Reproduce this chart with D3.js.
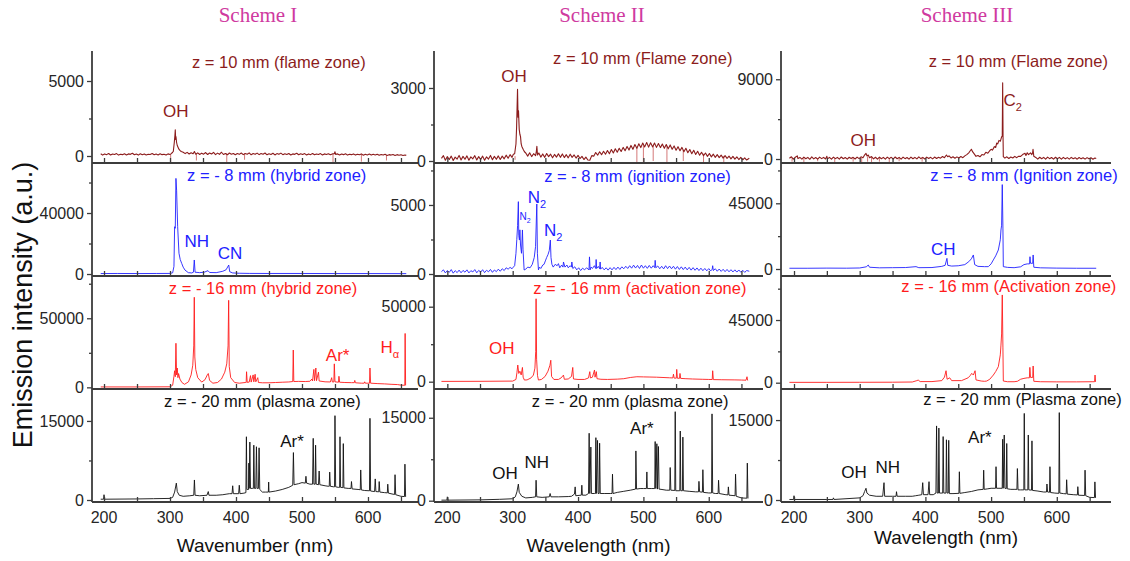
<!DOCTYPE html>
<html>
<head>
<meta charset="utf-8">
<script src="https://cdn.jsdelivr.net/npm/d3@7"></script>
<style>
  body { margin: 0; background: #fff; }
  svg { display: block; font-family: "Liberation Sans", Arial, sans-serif; }
</style>
</head>
<body>
<svg id="chart" width="1130" height="561"></svg>
<script>
/**
 * Data: [wavelength nm, intensity a.u.]
 */
const schemes = ["Scheme I", "Scheme II", "Scheme III"];
const xTitles = ["Wavenumber (nm)", "Wavelength (nm)", "Wavelength (nm)"];
const xLabelTicks = [200, 300, 400, 500, 600];
const xAllTicks = [200, 250, 300, 350, 400, 450, 500, 550, 600, 650];
const yMajorTicks = [
  [5000, 40000, 50000, 15000],
  [3000, 5000, 50000, 15000],
  [9000, 45000, 45000, 15000]
];
const yMinorTicks = [
  [[2500], [20000, 60000], [25000, 75000], [7500]],
  [[1500], [2500, 7500], [25000], [7500]],
  [[4500], [22500, 67500], [22500, 67500], [7500]]
];
const zoneTitles = [
  ["z = 10 mm (flame zone)", "z = - 8 mm (hybrid zone)", "z = - 16 mm (hybrid zone)", "z = - 20 mm (plasma zone)"],
  ["z = 10 mm (Flame zone)", "z = - 8 mm (ignition zone)", "z = - 16 mm (activation zone)", "z = - 20 mm (plasma zone)"],
  ["z = 10 mm (Flame zone)", "z = - 8 mm (Ignition zone)", "z = - 16 mm (Activation zone)", "z = - 20 mm (Plasma zone)"]
];

// Scheme I
const s1Flame = [[195,150],[198,60],[201,140],[204,90],[207,170],[210,70],[213,130],[216,100],[219,160],[222,60],[225,120],[228,90],[231,150],[234,70],[237,140],[240,110],[243,180],[246,80],[249,130],[252,60],[255,150],[258,90],[261,140],[264,70],[267,120],[270,100],[273,160],[276,80],[279,130],[282,70],[285,150],[288,90],[291,120],[294,60],[297,140],[300,100],[302,160],[304,250],[305,300],[306.5,900],[307.5,1400],[308,1750],[308.6,1100],[309,1300],[310,900],[311,700],[312,600],[313.5,450],[315,380],[317,300],[320,250],[323,160],[326,240],[329,130],[332,220],[335,150],[337,300],[339,120],[342,210],[345,100],[348,190],[351,120],[354,230],[357,100],[360,200],[363,130],[366,240],[369,90],[372,190],[375,110],[378,250],[381,100],[384,170],[387,80],[390,200],[393,120],[396,170],[399,80],[402,160],[405,110],[408,200],[411,90],[414,170],[417,120],[420,210],[423,80],[426,160],[429,110],[432,190],[435,90],[438,170],[441,120],[444,200],[447,80],[450,150],[453,100],[456,180],[459,70],[462,160],[465,110],[468,190],[471,90],[474,150],[477,100],[480,170],[483,70],[486,140],[489,110],[492,180],[495,80],[498,150],[501,100],[504,160],[507,70],[510,140],[513,90],[516,170],[519,80],[522,130],[525,100],[528,160],[531,70],[534,140],[537,100],[540,150],[543,80],[546,140],[549,150],[550,280],[551,110],[554,140],[557,70],[560,130],[563,90],[566,150],[569,60],[572,120],[575,90],[578,140],[581,60],[584,120],[587,80],[590,140],[593,50],[596,110],[599,70],[602,130],[605,60],[608,110],[611,70],[614,120],[617,50],[620,100],[623,60],[626,110],[629,40],[632,90],[635,60],[638,100],[641,40],[644,90],[647,50],[650,80],[653,30],[656,70],[658,40]];
const s1FlameDips = [[301,100,-420],[340,150,-300],[386,180,-450],[413,170,-250],[547,120,-450],[590,100,-380],[628,60,-300]];
const s1Hybrid = [[195,300],[220,350],[250,300],[280,350],[300,400],[304,800],[306,5000],[307,31000],[308,30000],[309,62700],[310,55000],[311.6,31000],[313.6,13600],[315.5,9500],[317.7,7000],[320,4500],[322.7,2600],[327.7,900],[333,700],[335.5,1200],[336.8,9200],[338,1200],[345,900],[352,1200],[357.6,2200],[360,1000],[370,900],[380,1800],[385,2800],[389,5900],[390.5,1500],[395,700],[405,500],[420,400],[450,350],[500,350],[550,300],[600,300],[658,250]];
const s1Hybrid16 = [[195,300],[250,300],[300,400],[304,1500],[306,8000],[307,12000],[308,7700],[309,31900],[310,9000],[311,14000],[312,7000],[313,10000],[315,6000],[318,3500],[322,2200],[328,4000],[332,9000],[334.5,16000],[336,30000],[336.8,65200],[337.6,22000],[339,13000],[342,7000],[348,3800],[353,5500],[357,9500],[358,10000],[360,5000],[365,3000],[372,3500],[378,6000],[383,11000],[386,17000],[388,30000],[388.9,63000],[389.8,15000],[392,7000],[398,3500],[405,3000],[414,3500],[415.4,3500],[416,11300],[417,3600],[420,3800],[422,8500],[423,3800],[426,9000],[427,4000],[429,9500],[430,4000],[433,7000],[434,3500],[440,3300],[450,3300],[460,3500],[470,3700],[480,3900],[486,4200],[486.8,27000],[487.6,4200],[495,4300],[505,4200],[512,4400],[515,6000],[516,4600],[518,13000],[519,4800],[521,14000],[522,4800],[525,11000],[526,4600],[535,4000],[543,3900],[545,7000],[546,3900],[548.3,3900],[549,17000],[550,4000],[555.3,3700],[556,8000],[557,3700],[565,3500],[575,3400],[579.3,3400],[580,5000],[581,3300],[590,3000],[594.3,3000],[595,4000],[596,3000],[602.3,3000],[603,14000],[604,3000],[615,2700],[625,2500],[635,2200],[645,2000],[650,1600],[655.8,1500],[656.3,39000],[657,1400]];
const s1Plasma = [[195,150],[199.3,150],[200,1000],[201,150],[250,200],[275,250],[300,300],[304,500],[307,1500],[309.6,3200],[311,1600],[314,900],[320,700],[330,800],[336,900],[337,3800],[338,900],[345,800],[356,900],[358,1600],[359,900],[370,900],[380,1000],[385,1100],[390,1200],[394,1200],[395,2700],[396,1200],[404,1200],[405,2800],[406,1200],[412,1300],[415,1400],[415.8,12000],[416.5,2000],[418,2000],[419,2000],[419.5,7000],[420,2200],[421,11000],[422,2200],[425,2200],[426.3,2200],[427,10400],[428,2200],[430,2200],[431,10100],[432,2200],[434,2200],[435,9900],[436,2000],[440,1500],[445,1500],[449,1500],[449.5,3400],[450,1500],[460,1700],[470,2000],[480,2400],[486,2800],[487,9000],[488,2900],[495,3100],[500,3300],[505,3200],[506,4500],[507,3200],[512,3000],[516,3000],[517,11700],[518,3000],[520,3000],[520.6,10400],[521.5,3000],[525,2900],[526,5500],[527,2900],[535,2700],[540,2600],[541.3,2600],[542,5300],[543,2600],[548,2500],[549.3,2500],[550,16000],[551,2500],[555,2400],[557,2400],[557.6,12000],[558.5,2400],[562,2350],[562.6,10700],[563.5,2300],[570,2200],[574.3,2200],[575,3500],[576,2100],[585,2000],[588.3,1950],[589,5700],[590,1900],[595,1800],[602.3,1750],[603,15500],[604,1700],[610,1600],[611,4000],[612,1600],[616.3,1550],[617,3500],[618,1500],[625,1400],[629.3,1350],[630,3000],[631,1300],[638,1100],[640.3,1050],[641,4800],[642,1000],[650,700],[655.3,650],[656,6800],[657,600]];

// Scheme II
const s2Flame = [[191,110],[194,220],[197,30],[200,180],[203,60],[206,200],[209,20],[212,160],[215,80],[218,230],[221,40],[224,190],[227,70],[230,210],[233,30],[236,170],[239,90],[242,220],[245,40],[248,180],[251,60],[254,200],[257,30],[260,170],[263,80],[266,230],[269,50],[272,190],[275,70],[278,210],[281,60],[284,200],[287,90],[290,240],[293,110],[296,260],[299,150],[301,280],[303,300],[305,700],[306,1400],[307.4,2950],[308.2,1800],[308.9,2060],[310,1300],[311,1100],[312,1000],[313,700],[314,600],[316,480],[318,380],[320,330],[323,200],[326,340],[329,180],[332,300],[335,220],[336,350],[337,600],[338,250],[340,330],[343,160],[346,290],[349,150],[352,310],[355,180],[358,280],[361,130],[364,270],[367,160],[370,300],[373,150],[376,290],[379,140],[382,260],[385,130],[388,280],[391,150],[394,250],[397,120],[400,230],[403,100],[406,190],[409,60],[412,160],[415,40],[418,30],[421,220],[424,200],[427,350],[430,240],[433,380],[436,260],[439,400],[442,280],[445,430],[448,300],[451,470],[454,330],[457,500],[460,360],[463,520],[466,390],[469,560],[472,420],[475,600],[478,450],[481,640],[484,480],[487,680],[490,520],[493,710],[496,550],[499,740],[502,580],[505,760],[508,570],[511,750],[514,580],[517,740],[520,560],[523,720],[526,550],[529,700],[532,520],[535,680],[538,500],[541,660],[544,480],[547,620],[550,440],[553,590],[556,420],[559,560],[562,380],[565,520],[568,340],[571,470],[574,300],[577,440],[580,270],[583,400],[586,240],[589,360],[592,220],[595,330],[598,190],[601,310],[604,170],[607,280],[610,150],[613,260],[616,140],[619,240],[622,120],[625,220],[628,110],[631,200],[634,90],[637,190],[640,80],[643,170],[646,60],[649,150],[652,50],[655,130],[658,40],[662,110]];
const s2FlameDips = [[303.6,200,50],[490,560,-80],[500,640,-80],[515,650,0],[536,610,-80],[561,460,0],[592,300,-80],[623,210,-80]];
const s2Ignition = [[191,170],[194,300],[197,80],[200,250],[203,120],[206,320],[209,60],[212,240],[215,100],[218,280],[221,90],[224,260],[227,130],[230,300],[233,80],[236,240],[239,150],[242,320],[245,90],[248,260],[251,140],[254,310],[257,100],[260,270],[263,160],[266,330],[269,120],[272,290],[275,170],[278,350],[281,200],[284,380],[287,250],[290,450],[293,350],[296,480],[299,380],[301,500],[303,600],[305,1500],[306.3,2500],[307.5,3500],[308.7,5240],[309.3,2800],[310.3,2460],[311,3200],[312,2100],[313.5,1500],[314.9,3190],[315.8,1800],[317.5,290],[320,350],[323,500],[326.6,450],[330,700],[333,1200],[335,2000],[336.9,5070],[337.8,1500],[339.4,300],[341,500],[343,400],[346,650],[348,700],[350,950],[352,1200],[354,1400],[356,1700],[357.6,2460],[358.6,1200],[360,700],[362,500],[365,700],[368,600],[370,750],[372,450],[375,650],[377,500],[377.7,870],[380,500],[383,650],[385,450],[388,600],[389.8,500],[390.5,870],[392,400],[395,520],[398,300],[401,450],[404,250],[407,420],[410,300],[413,450],[416.8,300],[417.5,1240],[418.5,300],[420,500],[422,400],[425,600],[427,400],[427.7,1050],[428.5,400],[431,550],[433.1,380],[433.8,870],[434.5,350],[437,480],[440,300],[443,450],[446,280],[449,460],[452,300],[455,480],[458,320],[461,500],[464,330],[467,520],[470,380],[473,560],[476,400],[479,600],[482,420],[485,640],[488,430],[491,620],[494,400],[497,650],[500,420],[503,600],[506,410],[509,620],[512,420],[515,600],[517.3,460],[518,990],[519,450],[522,580],[525,380],[528,560],[531,370],[534,600],[537,390],[540,580],[543,380],[546,560],[549,350],[552,540],[555,330],[558,520],[561,320],[564,500],[567,300],[570,480],[573,280],[576,460],[579,270],[582,440],[585,250],[588,420],[591,240],[594,400],[597,230],[600,390],[603,220],[605.3,350],[606,600],[607,250],[610,380],[613,200],[616,360],[619,190],[622,340],[625,170],[628,330],[631,160],[634,310],[637,150],[640,300],[643,140],[646,290],[649,130],[652,270],[655,120],[658,250],[662,200]];
const s2Activation = [[191,200],[250,250],[300,400],[305,1500],[306.5,6000],[307.8,11100],[309.3,5500],[311,7000],[313,4500],[314.9,9500],[316,3000],[317.9,1100],[322,1200],[328,2500],[331.7,4400],[334,9000],[335.2,20000],[335.8,55300],[336.6,15000],[338,4000],[339.4,1100],[344,1500],[349.6,3500],[354,7000],[357,11000],[358.3,14300],[359.5,3500],[363,1500],[370,1500],[374,2500],[377.7,4400],[379,1600],[385,1800],[390,3500],[391.9,9500],[393,1800],[400,1500],[410,1500],[416,2500],[418,6700],[419,2500],[422,3000],[425.2,7800],[426,3000],[428,6700],[429,2000],[435,1600],[445,1500],[460,1700],[470,2000],[480,2800],[490,3300],[500,3200],[510,3100],[520,3000],[530,2800],[540,2600],[545,2500],[546,5000],[547,2400],[550.3,2350],[551,8200],[552,2300],[555.3,2250],[556,5500],[557,2200],[565,2000],[575,1800],[590,1600],[600,1500],[605.3,1450],[606,7300],[607,1400],[620,1300],[640,1200],[650,1100],[657,1000],[658.5,3300],[659.5,800]];
const s2Plasma = [[191,100],[199.3,100],[200,700],[201,100],[250,150],[280,250],[300,350],[304,700],[306.5,1600],[308.7,3000],[310,1500],[314,800],[320,500],[330,600],[335,700],[335.8,3700],[336.8,700],[345,600],[356,700],[357.3,1300],[358.5,700],[370,700],[385,750],[390,800],[394.5,1200],[395.6,2500],[396.5,900],[405,1000],[405.8,2800],[406.6,1000],[412,1000],[416,1300],[417,12200],[418,1300],[419.6,9700],[420.5,1300],[425,1300],[426.6,1300],[427.3,11400],[428,1300],[429.8,10900],[430.7,1300],[432.3,1300],[433,10400],[434,1300],[440,1300],[450,1300],[452,1300],[452.7,4800],[453.5,1300],[460,1500],[470,1700],[480,1900],[488,2100],[488.5,9000],[489.5,2100],[495,2200],[500,2200],[504.6,2200],[505.3,5200],[506,2200],[512,2200],[517.3,2200],[518,10700],[519,2200],[520.6,10300],[521.5,2100],[523,9800],[524,2100],[530,2000],[535,1900],[540.3,1900],[541,6000],[542,1900],[548,1850],[548.7,16100],[549.5,1800],[555.7,1800],[556.4,12600],[557.2,1800],[559.7,1800],[560.4,11500],[561.3,1800],[570,1700],[580,1600],[584.3,1600],[585,3500],[586,1600],[590.3,1550],[591,5600],[592,1500],[600,1400],[604.3,1400],[605,15700],[606,1400],[610,1300],[614.3,1300],[615,3700],[616,1300],[625,1100],[629.3,1050],[630,2500],[631,1000],[640.3,900],[641,4800],[642,800],[650,500],[658.3,450],[659,6800],[660,400]];

// Scheme III
const s3Flame = [[193,80],[196,250],[199,-20],[202,200],[205,350],[206,50],[209,180],[212,-10],[215,220],[218,30],[221,190],[224,-30],[227,240],[230,20],[233,170],[236,-20],[239,210],[242,40],[245,180],[248,0],[250,300],[251,20],[254,190],[257,-20],[260,220],[263,40],[266,180],[269,-10],[272,230],[275,30],[278,170],[281,-20],[284,200],[287,50],[290,190],[293,0],[296,220],[299,40],[302,250],[305,150],[307,400],[309.6,640],[311,350],[313,450],[315,150],[318,280],[321,20],[324,200],[327,-10],[330,220],[333,30],[336,180],[339,-20],[342,210],[345,40],[348,190],[351,0],[354,230],[357,30],[360,180],[363,-10],[366,210],[369,40],[372,170],[375,-20],[378,220],[381,30],[384,190],[387,10],[390,240],[393,50],[396,180],[399,0],[402,210],[405,60],[408,190],[411,20],[414,220],[417,60],[420,200],[423,100],[426,280],[429,150],[432,450],[434,250],[436,350],[439,120],[442,260],[445,90],[448,240],[451,110],[454,280],[457,150],[460,350],[463,500],[466,700],[468,900],[470,1100],[472,800],[474,600],[477,300],[480,400],[483,250],[486,500],[489,450],[492,750],[495,650],[498,950],[500,1100],[502,1000],[505,1400],[507,1300],[508.5,1800],[510,1700],[512,2100],[514,2000],[516,2500],[517,2600],[517.6,8600],[518.2,2400],[518.6,260],[521,100],[524,250],[527,60],[530,220],[533,120],[536,300],[539,150],[542,320],[545,300],[548,500],[551.6,640],[553,400],[555,700],[557,500],[560,700],[562,500],[563.2,700],[563.8,1100],[565,300],[568,180],[571,-10],[574,200],[577,30],[580,180],[583,-20],[586,210],[589,40],[592,170],[595,-10],[598,200],[601,30],[604,180],[607,-20],[610,190],[613,20],[616,160],[619,-10],[622,180],[625,30],[628,150],[631,-20],[634,170],[637,20],[640,150],[643,-10],[646,160],[649,20],[652,140],[655,-20],[658,120],[660,50]];
const s3FlameDips = [[197,80,-300],[215,100,-350],[236,60,-250],[262,100,-350],[290,120,-300],[303,150,-350],[312,300,-300],[318,200,-350],[330,120,-300],[345,100,-350],[360,150,-250],[395,120,-300]];
const s3Ignition = [[193,500],[220,500],[250,600],[280,550],[300,700],[310,1500],[313,2700],[315,1200],[330,800],[350,900],[370,1000],[385.7,1600],[390,900],[410,1000],[425,1800],[430,2500],[432.8,7300],[434,2500],[440,2000],[450,2200],[460,3000],[466,5000],[470,7000],[473,9600],[475,3000],[480,1800],[490,1600],[495.8,1600],[500,3500],[503.4,6200],[507,9000],[511,13000],[514,20000],[515,26700],[516,30000],[517,57800],[518,28000],[518.6,1600],[525,1100],[535,900],[545,1500],[550,3000],[555,3500],[558.5,3500],[559.2,8400],[560,3900],[563.3,3900],[564,9600],[565,1200],[575,800],[600,600],[630,500],[660,500]];
const s3Activation = [[193,250],[250,250],[300,300],[350,350],[380,500],[387,1500],[389,1900],[392,800],[410,800],[425,1500],[429,4000],[431.4,8600],[433,2500],[437,3500],[440,1500],[455,1500],[465,3500],[468,5000],[470.5,6700],[473,5500],[475.6,8600],[477,2000],[485,1200],[490,1000],[493.3,1200],[498,2500],[503.4,5500],[507,8000],[511,11500],[514,20000],[515,27000],[516,35000],[517,63000],[518,25000],[518.6,1200],[525,700],[535,700],[540,1000],[545,2500],[550,3100],[555,3500],[558.3,3500],[559,11000],[560,3800],[563.3,3800],[564,12000],[565,1000],[575,700],[600,600],[630,600],[655,700],[657.5,700],[658.2,5500],[659,600]];
const s3Plasma = [[193,100],[199.3,100],[200,800],[201,100],[250,100],[259.3,100],[260,400],[261,100],[300,400],[305,800],[307.5,1600],[309.6,2200],[311,1300],[315,900],[325,700],[335,700],[337,3250],[338,700],[350,700],[355.3,700],[356,1560],[357,700],[370,700],[380,700],[385,800],[390,900],[394.5,1000],[395.9,3250],[397,1000],[404,1000],[405.5,3440],[406.5,1000],[412,1000],[416,1300],[417,13900],[418,1300],[419.8,1300],[420.5,13500],[421.5,1300],[426.3,1300],[427,11900],[428,1300],[431.3,1300],[432,11300],[433,1300],[434.8,1300],[435.5,11200],[436.5,1200],[442,1200],[451,1250],[451.7,5300],[452.5,1250],[460,1400],[470,1600],[480,1900],[488,2000],[488.7,5600],[489.5,2000],[495,2100],[500,2200],[506.8,2200],[507.5,6250],[508.3,2200],[512,2200],[516.9,2200],[517.6,11400],[518.4,2200],[520,12200],[521,2200],[523.1,2150],[523.8,10600],[524.6,2100],[530,2000],[535,2000],[539.3,2000],[540,5900],[541,1900],[545,1900],[549.8,1900],[550.5,16250],[551.3,1900],[555.9,1900],[556.6,12200],[557.4,1900],[561.5,1850],[562.2,11100],[563,1800],[570,1700],[580,1500],[584.3,1500],[585,3000],[586,1500],[588.9,1450],[589.6,6250],[590.5,1400],[597,1300],[603.1,1250],[603.8,16400],[604.6,1300],[610,1200],[614.3,1150],[615,3800],[616,1100],[625,1000],[631.3,950],[632,2500],[633,900],[642.3,850],[643,5600],[644,800],[650,500],[657.3,450],[658,3400],[659,400]];

const spectra = [
  [s1Flame, s1Hybrid, s1Hybrid16, s1Plasma],
  [s2Flame, s2Ignition, s2Activation, s2Plasma],
  [s3Flame, s3Ignition, s3Activation, s3Plasma]
];
const flameDips = [s1FlameDips, s2FlameDips, s3FlameDips];

// peak labels: [column, row, text, subscript, nm, intensity]
const peakLabels = [
  [0, 0, "OH", "", 308.6, 3020],
  [0, 1, "NH", "", 340.5, 21600],
  [0, 1, "CN", "", 391, 13800],
  [0, 2, "Ar*", "", 554, 23400],
  [0, 2, "H", "\u03b1", 633, 29400],
  [0, 3, "Ar*", "", 484.8, 11250],
  [1, 0, "OH", "", 302, 3490],
  [1, 1, "N", "2", 337, 5600],
  [1, 1, "N", "2", 362, 3190],
  [1, 2, "OH", "", 283.3, 22270],
  [1, 3, "OH", "", 288.4, 5060],
  [1, 3, "NH", "", 337, 7050],
  [1, 3, "Ar*", "", 497.7, 13090],
  [2, 0, "OH", "", 305.5, 2140],
  [2, 0, "C", "2", 533, 6660],
  [2, 1, "CH", "", 427.2, 13500],
  [2, 3, "Ar*", "", 483, 11760],
  [2, 3, "OH", "", 291.3, 5310],
  [2, 3, "NH", "", 342.6, 6140]
];
const smallPeakLabels = [[1, 1, "N", "2", 319, 4150]];

/**
 * Layout
 */
const rowsPx = [51, 163, 276, 389, 502];
const cols = [
  { left: 92, right: 418, domain: [181.8, 675.8], titleX: 258, xTitleY: 552 },
  { left: 434, right: 763, domain: [179.6, 683], titleX: 602, xTitleY: 551.5 },
  { left: 781, right: 1111, domain: [180.2, 682.5], titleX: 967, xTitleY: 544 }
];
const yDomains = [
  [[-467, 7000], [-1300, 72800], [-1200, 80600], [-380, 21060]],
  [[-82, 4520], [-145, 8040], [-4870, 70470], [-235, 20200]],
  [[-450, 12190], [-4800, 72600], [-4520, 76600], [-375, 20830]]
];
// zone title centre: [nm, px below panel top]
const zonePos = [
  [[465, 11], [461.7, 12], [441, 12], [440, 12.7]],
  [[499, 7.3], [491, 13.7], [494.6, 12.3], [479.8, 12.7]],
  [[541.4, 10.7], [550, 12], [527, 10.7], [547.8, 10.3]]
];
const rowColors = ["#8c1c1c", "#2121ff", "#ff1c1c", "#111111"];
const dipColor = "#cf6a6a";
const axisColor = "#3c3c3c";
const textColor = "#262626";

const svg = d3.select("#chart");
const defs = svg.append("defs");

/**
 * Titles
 */
svg.selectAll(".scheme")
  .data(schemes)
  .enter()
  .append("text")
  .attr("x", (d, i) => cols[i].titleX)
  .attr("y", 22)
  .attr("text-anchor", "middle")
  .attr("font-family", "'Liberation Serif', 'Times New Roman', serif")
  .attr("font-size", 21)
  .attr("fill", "#cf3a9f")
  .text(d => d);

svg.append("text")
  .attr("transform", "translate(32,305) rotate(-90)")
  .attr("text-anchor", "middle")
  .attr("font-size", 27)
  .attr("fill", "#111")
  .text("Emission intensity (a.u.)");

/**
 * Panels
 */
cols.forEach((col, c) => {
  const x = d3.scaleLinear().domain(col.domain).range([col.left, col.right]);

  for (let r = 0; r < 4; r++) {
    const top = rowsPx[r], bottom = rowsPx[r + 1];
    const y = d3.scaleLinear().domain(yDomains[c][r]).range([bottom, top]);
    const clipId = "clip-" + c + "-" + r;
    defs.append("clipPath").attr("id", clipId)
      .append("rect")
      .attr("x", col.left).attr("y", top)
      .attr("width", col.right - col.left).attr("height", bottom - top);

    const panel = svg.append("g");
    const plot = panel.append("g").attr("clip-path", "url(#" + clipId + ")");

    // light downward spikes in flame zone traces
    if (r === 0) {
      plot.selectAll("line.dip")
        .data(flameDips[c])
        .enter()
        .append("line")
        .attr("x1", d => x(d[0])).attr("x2", d => x(d[0]))
        .attr("y1", d => y(d[1])).attr("y2", d => y(d[2]))
        .attr("stroke", dipColor)
        .attr("stroke-width", 0.9);
    }

    const line = d3.line().x(d => x(d[0])).y(d => y(d[1]));
    plot.append("path")
      .datum(spectra[c][r])
      .attr("d", line)
      .attr("fill", "none")
      .attr("stroke", rowColors[r])
      .attr("stroke-width", r === 0 ? 1.1 : 0.9)
      .attr("stroke-linejoin", "round");

    // y ticks
    const yAxis = panel.append("g")
      .attr("transform", "translate(" + col.left + ",0)")
      .call(d3.axisLeft(y).tickValues([0, yMajorTicks[c][r]]).tickSize(5).tickPadding(3).tickFormat(d3.format("d")));
    const yMinor = panel.append("g")
      .attr("transform", "translate(" + col.left + ",0)")
      .call(d3.axisLeft(y).tickValues(yMinorTicks[c][r].filter(v => v < yDomains[c][r][1])).tickSize(3).tickFormat(""));

    // x axis line with inward ticks
    const xAxis = panel.append("g")
      .attr("transform", "translate(0," + bottom + ")")
      .call(d3.axisBottom(x).tickValues(xAllTicks).tickSize(-5).tickFormat(""));

    [yAxis, yMinor, xAxis].forEach(g => {
      g.select(".domain").remove();
      g.selectAll("line").attr("stroke", axisColor).attr("stroke-width", 1.3);
      g.selectAll("text").attr("font-size", 16).attr("fill", textColor).attr("font-family", "'Liberation Sans', Arial, sans-serif");
    });
    panel.append("line")
      .attr("x1", col.left).attr("x2", col.right)
      .attr("y1", bottom).attr("y2", bottom)
      .attr("stroke", axisColor).attr("stroke-width", 1.8);

    // zone title
    panel.append("text")
      .attr("x", x(zonePos[c][r][0]))
      .attr("y", top + zonePos[c][r][1])
      .attr("dy", "0.35em")
      .attr("text-anchor", "middle")
      .attr("font-size", 16.5)
      .attr("fill", rowColors[r])
      .text(zoneTitles[c][r]);

    // peak labels
    const addLabel = (d, size, subSize) => {
      const t = panel.append("text")
        .attr("x", x(d[4]))
        .attr("y", y(d[5]))
        .attr("dy", "0.35em")
        .attr("text-anchor", "middle")
        .attr("font-size", size)
        .attr("fill", rowColors[r]);
      t.append("tspan").text(d[2]);
      if (d[3]) t.append("tspan").attr("dy", size * 0.3).attr("font-size", subSize).text(d[3]);
    };
    peakLabels.filter(d => d[0] === c && d[1] === r).forEach(d => addLabel(d, 17, 11));
    smallPeakLabels.filter(d => d[0] === c && d[1] === r).forEach(d => addLabel(d, 10, 7));

    // bottom tick labels
    if (r === 3) {
      panel.selectAll("text.xl")
        .data(xLabelTicks)
        .enter()
        .append("text")
        .attr("x", d => x(d))
        .attr("y", bottom + 21)
        .attr("text-anchor", "middle")
        .attr("font-size", 16)
        .attr("fill", textColor)
        .text(d => d);
    }
  }

  // vertical axis line for the column
  svg.append("line")
    .attr("x1", col.left).attr("x2", col.left)
    .attr("y1", rowsPx[0]).attr("y2", rowsPx[4])
    .attr("stroke", axisColor).attr("stroke-width", 1.8);

  svg.append("text")
    .attr("x", (col.left + col.right) / 2)
    .attr("y", col.xTitleY)
    .attr("text-anchor", "middle")
    .attr("font-size", 19)
    .attr("fill", "#111")
    .text(xTitles[c]);
});
</script>
</body>
</html>
